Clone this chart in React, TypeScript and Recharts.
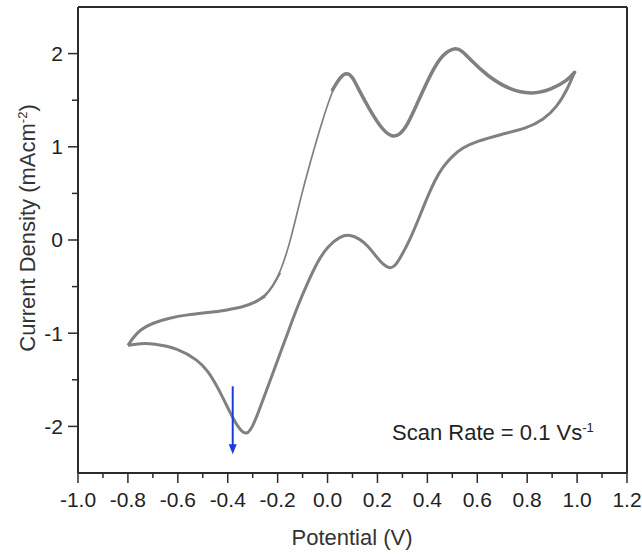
import { Line, LineChart, ReferenceLine, XAxis, YAxis } from "recharts";

// anodic sweep, split where the trace visibly thins out
const forwardFoot = [
  { v: -0.8, j: -1.13 },
  { v: -0.78, j: -1.05 },
  { v: -0.75, j: -0.96 },
  { v: -0.7, j: -0.89 },
  { v: -0.64, j: -0.84 },
  { v: -0.56, j: -0.8 },
  { v: -0.48, j: -0.78 },
  { v: -0.4, j: -0.75 },
  { v: -0.34, j: -0.72 },
  { v: -0.29, j: -0.67 },
  { v: -0.25, j: -0.6 }
];

const forwardBend = [
  { v: -0.29, j: -0.67 },
  { v: -0.25, j: -0.6 },
  { v: -0.22, j: -0.5 },
  { v: -0.19, j: -0.35 }
];

const forwardRise = [
  { v: -0.25, j: -0.6 },
  { v: -0.22, j: -0.5 },
  { v: -0.19, j: -0.35 },
  { v: -0.15, j: -0.03 },
  { v: -0.11, j: 0.43 },
  { v: -0.07, j: 0.83 },
  { v: -0.02, j: 1.29 },
  { v: 0.02, j: 1.61 },
  { v: 0.05, j: 1.75 }
];

const forwardPeaks = [
  { v: 0.02, j: 1.61 },
  { v: 0.05, j: 1.75 },
  { v: 0.078, j: 1.8 },
  { v: 0.1, j: 1.75 },
  { v: 0.12, j: 1.64 },
  { v: 0.17, j: 1.39 },
  { v: 0.22, j: 1.18 },
  { v: 0.26, j: 1.1 },
  { v: 0.29, j: 1.13 },
  { v: 0.32, j: 1.23 },
  { v: 0.36, j: 1.47 },
  { v: 0.42, j: 1.82 },
  { v: 0.46, j: 1.99 },
  { v: 0.51, j: 2.07 },
  { v: 0.54, j: 2.03 },
  { v: 0.57, j: 1.94 },
  { v: 0.64, j: 1.76 },
  { v: 0.73, j: 1.61 },
  { v: 0.82, j: 1.56 },
  { v: 0.9, j: 1.62 },
  { v: 0.96, j: 1.71 },
  { v: 0.99, j: 1.8 }
];

// cathodic sweep (listed low to high potential)
const reverseSweep = [
  { v: -0.8, j: -1.13 },
  { v: -0.75, j: -1.11 },
  { v: -0.7, j: -1.11 },
  { v: -0.6, j: -1.16 },
  { v: -0.52, j: -1.29 },
  { v: -0.48, j: -1.4 },
  { v: -0.44, j: -1.58 },
  { v: -0.4, j: -1.8 },
  { v: -0.37, j: -1.96 },
  { v: -0.34, j: -2.07 },
  { v: -0.32, j: -2.08 },
  { v: -0.3, j: -2.0 },
  { v: -0.28, j: -1.87 },
  { v: -0.24, j: -1.58 },
  { v: -0.2, j: -1.29 },
  { v: -0.16, j: -1.0 },
  { v: -0.12, j: -0.71 },
  { v: -0.08, j: -0.46 },
  { v: -0.04, j: -0.23 },
  { v: 0.0, j: -0.07 },
  { v: 0.05, j: 0.04 },
  { v: 0.09, j: 0.06 },
  { v: 0.13, j: 0.01 },
  { v: 0.16, j: -0.06 },
  { v: 0.19, j: -0.16 },
  { v: 0.22, j: -0.26 },
  { v: 0.25, j: -0.31 },
  { v: 0.27, j: -0.28 },
  { v: 0.29, j: -0.2 },
  { v: 0.33, j: 0.0 },
  { v: 0.37, j: 0.26 },
  { v: 0.4, j: 0.46 },
  { v: 0.43, j: 0.64 },
  { v: 0.46, j: 0.78 },
  { v: 0.5, j: 0.9 },
  { v: 0.54, j: 0.99 },
  { v: 0.6, j: 1.06 },
  { v: 0.69, j: 1.13 },
  { v: 0.8, j: 1.2 },
  { v: 0.865, j: 1.29 },
  { v: 0.92, j: 1.43 },
  { v: 0.96, j: 1.61 },
  { v: 0.99, j: 1.8 }
];

const arrowPoints = [
  { x: -0.38, y: -1.57 },
  { x: -0.38, y: -2.3 }
];

const xMajorTicks = [-1.0, -0.8, -0.6, -0.4, -0.2, 0.0, 0.2, 0.4, 0.6, 0.8, 1.0, 1.2];
const xMinorTicks = [-0.9, -0.7, -0.5, -0.3, -0.1, 0.1, 0.3, 0.5, 0.7, 0.9, 1.1];
const yMajorTicks = [-2, -1, 0, 1, 2];
const yMinorTicks = [-1.5, -0.5, 0.5, 1.5];

const AXIS = "#2b2b2b";
const TRACE = "#808080";
const FONT = "'Liberation Sans', Arial, sans-serif";

const isMajor = (list: number[], v: number) => list.some((t) => Math.abs(t - v) < 1e-6);

function XTick({ x, y, payload }: any) {
  const major = isMajor(xMajorTicks, payload.value);
  return (
    <g>
      <line x1={x} x2={x} y1={y} y2={y + (major ? 10 : 5)} stroke={AXIS} strokeWidth={1.5} />
      {major ? (
        <text x={x} y={y + 27} dy="0.35em" textAnchor="middle" fill="#222" fontSize={21} fontFamily={FONT}>
          {payload.value.toFixed(1)}
        </text>
      ) : null}
    </g>
  );
}

function YTick({ x, y, payload }: any) {
  const major = isMajor(yMajorTicks, payload.value);
  return (
    <g>
      <line x1={x - (major ? 10 : 6)} x2={x} y1={y} y2={y} stroke={AXIS} strokeWidth={1.5} />
      {major ? (
        <text x={x - 15} y={y} dy="0.35em" textAnchor="end" fill="#222" fontSize={21} fontFamily={FONT}>
          {payload.value}
        </text>
      ) : null}
    </g>
  );
}

function ArrowShape({ x1, y1, x2, y2 }: any) {
  return (
    <g>
      <line x1={x1} y1={y1} x2={x2} y2={y2 - 8} stroke="#1a3ae0" strokeWidth={2} />
      <polygon points={`${x2 - 4},${y2 - 10} ${x2 + 4},${y2 - 10} ${x2},${y2}`} fill="#1a3ae0" />
    </g>
  );
}

export default function App() {
  const xTicks = [...xMajorTicks, ...xMinorTicks].sort((a, b) => a - b);
  const yTicks = [...yMajorTicks, ...yMinorTicks].sort((a, b) => a - b);

  return (
    <div style={{ position: "absolute", left: 0, top: 0, width: 642, height: 554, background: "#fff", fontFamily: FONT }}>
      <LineChart width={642} height={554} margin={{ top: 7, right: 15, bottom: 0, left: 0 }}>
        <XAxis
          type="number"
          dataKey="v"
          domain={[-1, 1.2]}
          ticks={xTicks}
          interval={0}
          allowDataOverflow
          height={81}
          tickSize={0}
          tickMargin={0}
          tickLine={false}
          tick={<XTick />}
          axisLine={{ stroke: AXIS, strokeWidth: 2 }}
        />
        <YAxis
          type="number"
          domain={[-2.5, 2.5]}
          ticks={yTicks}
          interval={0}
          allowDataOverflow
          width={78}
          tickSize={0}
          tickMargin={0}
          tickLine={false}
          tick={<YTick />}
          axisLine={{ stroke: AXIS, strokeWidth: 2 }}
        />
        <ReferenceLine y={2.5} stroke={AXIS} strokeWidth={2} />
        <ReferenceLine x={1.2} stroke={AXIS} strokeWidth={2} />
        <Line data={reverseSweep} dataKey="j" type="basis" stroke={TRACE} strokeWidth={3} dot={false} activeDot={false} isAnimationActive={false} />
        <Line data={forwardFoot} dataKey="j" type="basis" stroke={TRACE} strokeWidth={3} dot={false} activeDot={false} isAnimationActive={false} />
        <Line data={forwardBend} dataKey="j" type="basis" stroke={TRACE} strokeWidth={2.3} dot={false} activeDot={false} isAnimationActive={false} />
        <Line data={forwardRise} dataKey="j" type="basis" stroke={TRACE} strokeWidth={1.7} dot={false} activeDot={false} isAnimationActive={false} />
        <Line data={forwardPeaks} dataKey="j" type="basis" stroke={TRACE} strokeWidth={3.5} strokeLinecap="round" dot={false} activeDot={false} isAnimationActive={false} />
        <ReferenceLine segment={arrowPoints} shape={<ArrowShape />} />
      </LineChart>

      <div
        style={{
          position: "absolute",
          left: 28,
          top: 228,
          transform: "translate(-50%, -50%) rotate(-90deg)",
          whiteSpace: "nowrap",
          fontSize: 22,
          color: "#333"
        }}
      >
        Current Density (mAcm<sup style={{ fontSize: 13 }}>-2</sup>)
      </div>
      <div
        style={{
          position: "absolute",
          left: 352,
          top: 538,
          transform: "translate(-50%, -50%)",
          whiteSpace: "nowrap",
          fontSize: 22,
          color: "#333"
        }}
      >
        Potential (V)
      </div>
      <div
        style={{
          position: "absolute",
          left: 392,
          top: 433,
          transform: "translateY(-50%)",
          whiteSpace: "nowrap",
          fontSize: 22,
          color: "#222"
        }}
      >
        Scan Rate = 0.1 Vs<sup style={{ fontSize: 13 }}>-1</sup>
      </div>
    </div>
  );
}
